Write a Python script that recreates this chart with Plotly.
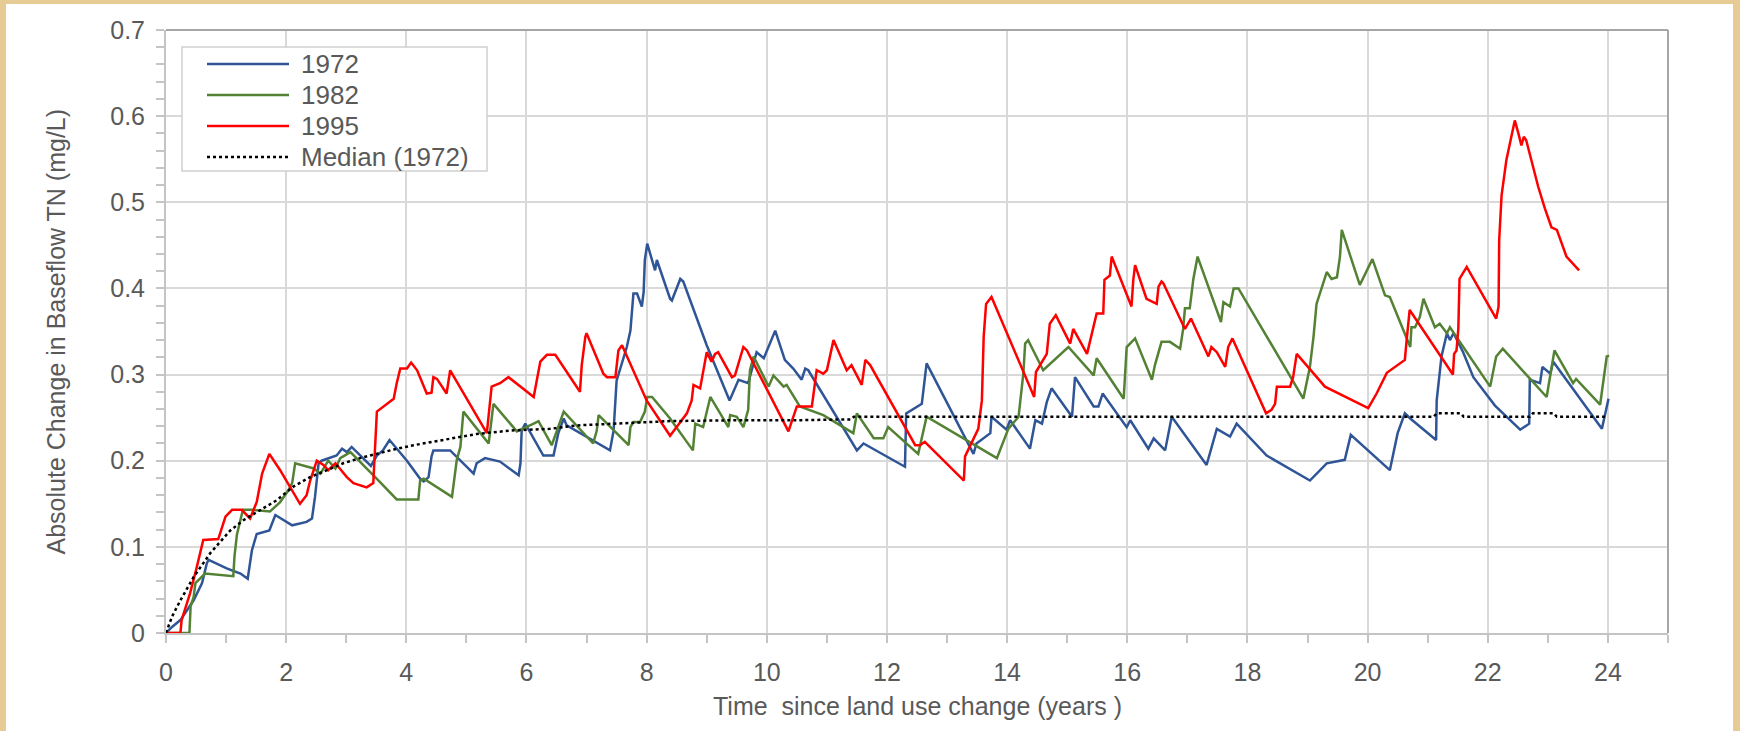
import plotly.graph_objects as go

# ---------------- data ----------------
x_1972 = [0, 0.1, 0.24, 0.35, 0.46, 0.6, 0.68, 0.71, 1.01, 1.24, 1.36, 1.43, 1.51, 1.72, 1.82, 2.1, 2.34, 2.43,
          2.48, 2.54, 2.59, 2.84, 2.93, 3.01, 3.09, 3.41, 3.51, 3.61, 3.72, 4.01, 4.23, 4.29, 4.37, 4.42, 4.45,
          4.73, 5.12, 5.17, 5.31, 5.56, 5.87, 5.9, 5.92, 5.98, 6.28, 6.45, 6.53, 6.62, 6.67, 7.39, 7.45, 7.5,
          7.67, 7.73, 7.78, 7.84, 7.92, 7.95, 7.97, 8.01, 8.06, 8.14, 8.17, 8.39, 8.42, 8.56, 8.61, 9.0, 9.38,
          9.53, 9.69, 9.83, 9.95, 10.14, 10.3, 10.44, 10.58, 10.64, 10.69, 11.5, 11.61, 12.3, 12.32, 12.5,
          12.58, 12.66, 13.44, 13.49, 13.72, 13.74, 13.99, 14.05, 14.38, 14.47, 14.58, 14.66, 14.74, 15.08,
          15.13, 15.44, 15.52, 15.59, 15.99, 16.05, 16.35, 16.44, 16.63, 16.74, 17.32, 17.49, 17.71, 17.82,
          18.32, 19.04, 19.32, 19.62, 19.72, 20.37, 20.5, 20.62, 20.71, 21.14, 21.15, 21.23, 21.32, 21.37,
          21.43, 21.59, 21.76, 22.12, 22.54, 22.69, 22.7, 22.87, 22.91, 23.04, 23.09, 23.9, 24.01]
y_1972 = [0, 0.007, 0.015, 0.027, 0.038, 0.058, 0.081, 0.085, 0.075, 0.069, 0.063, 0.096, 0.115, 0.119, 0.137,
          0.125, 0.129, 0.133, 0.158, 0.197, 0.2, 0.206, 0.214, 0.21, 0.216, 0.194, 0.206, 0.212, 0.224, 0.2,
          0.179, 0.176, 0.181, 0.205, 0.212, 0.212, 0.185, 0.197, 0.203, 0.199, 0.183, 0.197, 0.235, 0.243,
          0.206, 0.206, 0.232, 0.249, 0.241, 0.212, 0.235, 0.293, 0.332, 0.351, 0.394, 0.394, 0.379, 0.396,
          0.433, 0.452, 0.44, 0.421, 0.433, 0.388, 0.386, 0.411, 0.408, 0.334, 0.27, 0.294, 0.29, 0.326, 0.319,
          0.351, 0.317, 0.307, 0.294, 0.307, 0.305, 0.212, 0.22, 0.193, 0.255, 0.263, 0.266, 0.313, 0.208,
          0.22, 0.232, 0.251, 0.236, 0.247, 0.214, 0.247, 0.243, 0.268, 0.284, 0.251, 0.297, 0.263, 0.263,
          0.278, 0.239, 0.247, 0.214, 0.226, 0.212, 0.251, 0.195, 0.237, 0.228, 0.243, 0.206, 0.177, 0.197,
          0.201, 0.23, 0.189, 0.232, 0.255, 0.249, 0.224, 0.27, 0.321, 0.348, 0.34, 0.348, 0.326, 0.297,
          0.264, 0.236, 0.243, 0.294, 0.29, 0.309, 0.301, 0.315, 0.237, 0.272]

x_1982 = [0, 0.39, 0.41, 0.46, 0.49, 0.65, 1.12, 1.14, 1.18, 1.28, 1.43, 1.73, 1.9, 2.04, 2.1, 2.15, 2.46, 2.57,
          2.7, 2.82, 2.9, 3.07, 3.51, 3.84, 4.2, 4.23, 4.29, 4.76, 4.84, 4.9, 4.95, 5.37, 5.45, 5.84, 6.12, 6.2,
          6.42, 6.62, 7.11, 7.17, 7.2, 7.7, 7.73, 7.78, 7.89, 7.97, 8.01, 8.09, 8.39, 8.77, 8.81, 8.94, 9.06,
          9.36, 9.39, 9.5, 9.61, 9.69, 9.72, 9.78, 10.03, 10.11, 10.28, 10.33, 10.55, 10.94, 11.44, 11.5, 11.78,
          11.94, 12.02, 12.52, 12.66, 13.83, 14.02, 14.19, 14.27, 14.3, 14.35, 14.6, 15.02, 15.44, 15.49, 15.94,
          15.99, 16.13, 16.41, 16.46, 16.57, 16.71, 16.88, 16.93, 16.96, 17.04, 17.1, 17.17, 17.56, 17.6,
          17.71, 17.77, 17.85, 18.93, 19.04, 19.1, 19.15, 19.32, 19.4, 19.49, 19.54, 19.57, 19.87, 20.08,
          20.29, 20.37, 20.71, 20.73, 20.79, 20.87, 20.93, 21.12, 21.2, 21.32, 21.37, 22.04, 22.14, 22.25,
          22.98, 23.09, 23.11, 23.42, 23.47, 23.87, 23.93, 23.98, 24.02]
y_1982 = [0, 0, 0.031, 0.042, 0.058, 0.069, 0.066, 0.089, 0.114, 0.143, 0.143, 0.141, 0.152, 0.166, 0.174,
          0.197, 0.191, 0.185, 0.2, 0.191, 0.203, 0.21, 0.179, 0.155, 0.155, 0.177, 0.179, 0.158, 0.201, 0.216,
          0.257, 0.22, 0.266, 0.234, 0.243, 0.246, 0.218, 0.257, 0.22, 0.235, 0.253, 0.218, 0.239, 0.245, 0.245,
          0.257, 0.274, 0.274, 0.249, 0.212, 0.243, 0.239, 0.274, 0.239, 0.253, 0.251, 0.239, 0.259, 0.305,
          0.321, 0.286, 0.299, 0.286, 0.288, 0.263, 0.253, 0.232, 0.255, 0.226, 0.226, 0.239, 0.208, 0.251,
          0.203, 0.237, 0.251, 0.301, 0.336, 0.34, 0.305, 0.332, 0.299, 0.319, 0.272, 0.332, 0.342, 0.294,
          0.311, 0.338, 0.338, 0.33, 0.353, 0.377, 0.377, 0.411, 0.437, 0.361, 0.384, 0.379, 0.4, 0.4, 0.272,
          0.309, 0.344, 0.382, 0.419, 0.411, 0.413, 0.437, 0.468, 0.404, 0.434, 0.392, 0.39, 0.332, 0.355,
          0.355, 0.367, 0.388, 0.355, 0.359, 0.348, 0.355, 0.286, 0.321, 0.33, 0.274, 0.317, 0.328, 0.29,
          0.295, 0.265, 0.295, 0.321, 0.322]

x_1995 = [0, 0.24, 0.26, 0.4, 0.5, 0.6, 0.62, 0.87, 0.99, 1.1, 1.26, 1.4, 1.51, 1.6, 1.68, 1.72, 1.9, 2.12, 2.23,
          2.34, 2.4, 2.51, 2.62, 2.7, 2.82, 3.01, 3.12, 3.34, 3.45, 3.51, 3.59, 3.79, 3.84, 3.9, 4.01, 4.08,
          4.18, 4.34, 4.42, 4.45, 4.51, 4.67, 4.73, 5.34, 5.39, 5.42, 5.56, 5.7, 6.12, 6.2, 6.23, 6.34, 6.48,
          6.89, 6.92, 6.98, 7.0, 7.28, 7.34, 7.48, 7.53, 7.59, 8.0, 8.39, 8.67, 8.75, 8.78, 8.89, 8.95, 9.0,
          9.08, 9.14, 9.19, 9.42, 9.47, 9.61, 9.67, 10.36, 10.5, 10.75, 10.83, 10.94, 11.0, 11.11, 11.33,
          11.41, 11.58, 11.64, 11.72, 12.47, 12.55, 12.63, 13.28, 13.3, 13.52, 13.58, 13.61, 13.65, 13.74,
          14.45, 14.48, 14.66, 14.71, 14.81, 15.05, 15.1, 15.33, 15.41, 15.49, 15.6, 15.62, 15.71, 15.74,
          16.07, 16.1, 16.13, 16.32, 16.49, 16.52, 16.57, 16.6, 16.96, 17.06, 17.35, 17.4, 17.49, 17.63,
          17.68, 17.75, 18.31, 18.4, 18.46, 18.49, 18.71, 18.76, 18.82, 19.29, 20.01, 20.15, 20.32, 20.62,
          20.65, 20.7, 21.42, 21.44, 21.48, 21.51, 21.53, 21.65, 22.14, 22.18, 22.19, 22.23, 22.31, 22.41,
          22.45, 22.51, 22.56, 22.6, 22.64, 22.84, 22.95, 23.06, 23.15, 23.31, 23.52]
y_1995 = [0, 0, 0.015, 0.046, 0.073, 0.1, 0.108, 0.109, 0.135, 0.143, 0.143, 0.133, 0.152, 0.185, 0.2, 0.208,
          0.189, 0.162, 0.15, 0.16, 0.177, 0.2, 0.195, 0.189, 0.197, 0.181, 0.174, 0.169, 0.174, 0.257, 0.261,
          0.272, 0.29, 0.307, 0.307, 0.314, 0.305, 0.278, 0.279, 0.297, 0.295, 0.278, 0.305, 0.232, 0.266,
          0.286, 0.29, 0.297, 0.274, 0.301, 0.315, 0.323, 0.323, 0.28, 0.311, 0.344, 0.348, 0.301, 0.297,
          0.297, 0.328, 0.334, 0.27, 0.229, 0.255, 0.27, 0.288, 0.284, 0.307, 0.326, 0.315, 0.324, 0.326,
          0.297, 0.299, 0.332, 0.328, 0.234, 0.263, 0.263, 0.305, 0.301, 0.305, 0.34, 0.305, 0.311, 0.288,
          0.317, 0.311, 0.218, 0.218, 0.222, 0.177, 0.205, 0.237, 0.27, 0.344, 0.382, 0.39, 0.274, 0.303,
          0.324, 0.359, 0.369, 0.336, 0.353, 0.324, 0.348, 0.371, 0.371, 0.41, 0.415, 0.437, 0.379, 0.41,
          0.427, 0.388, 0.382, 0.402, 0.408, 0.406, 0.353, 0.365, 0.321, 0.332, 0.326, 0.309, 0.332, 0.342,
          0.255, 0.259, 0.266, 0.286, 0.286, 0.297, 0.324, 0.286, 0.261, 0.278, 0.302, 0.317, 0.34, 0.375,
          0.3, 0.324, 0.328, 0.353, 0.411, 0.425, 0.365, 0.379, 0.456, 0.508, 0.549, 0.582, 0.595, 0.58,
          0.566, 0.576, 0.572, 0.518, 0.493, 0.471, 0.468, 0.437, 0.421]

x_median = [0, 0.1, 0.24, 0.46, 0.74, 1.07, 1.29, 1.57, 1.84, 2.12, 2.4, 2.68, 2.95, 3.23, 3.51, 3.79, 4.12,
            4.62, 5.17, 5.73, 6.39, 6.84, 7.39, 7.95, 8.39, 9.5, 10.5, 11.4, 11.45, 21.1, 21.15, 21.55, 21.6,
            22.7, 22.75, 23.1, 23.15, 23.95]
y_median = [0, 0.019, 0.038, 0.065, 0.093, 0.119, 0.131, 0.143, 0.154, 0.17, 0.181, 0.189, 0.197, 0.203,
            0.208, 0.213, 0.218, 0.224, 0.231, 0.235, 0.237, 0.241, 0.243, 0.245, 0.246, 0.247, 0.247, 0.248,
            0.251, 0.251, 0.255, 0.255, 0.251, 0.251, 0.255, 0.255, 0.251, 0.251]

series_names = ["1972", "1982", "1995", "Median (1972)"]
series_colors = ["#2F5597", "#548235", "#FF0000", "#000000"]
series_dash = ["solid", "solid", "solid", "dot"]
x_title = "Time  since land use change (years )"
y_title = "Absolute Change in Baseflow TN (mg/L)"

# ---------------- figure ----------------
W, H = 1740, 731
L, R, T, B = 166, 72, 30, 98
PW, PH = W - L - R, H - T - B
FONT = "Arial, 'Liberation Sans', sans-serif"
TXT = "#595959"
GRID = "#d9d9d9"
AX = "#c4c4c4"
LW = 2.5


def px_x(px):
    return (px - L) / PW


def px_y(py):
    return (H - B - py) / PH


fig = go.Figure()
data = [(x_1972, y_1972), (x_1982, y_1982), (x_1995, y_1995), (x_median, y_median)]
for (xs, ys), nm, col, dsh in zip(data, series_names, series_colors, series_dash):
    fig.add_trace(go.Scatter(x=xs, y=ys, mode="lines", name=nm, showlegend=False,
                             line=dict(color=col, width=LW, dash=dsh)))

# legend drawn as a boxed key (matches the reference's spacing)
shapes = [
    dict(type="rect", xref="paper", yref="paper", x0=px_x(6), x1=px_x(1733), y0=px_y(H + 5), y1=px_y(4),
         fillcolor="white", line=dict(width=0), layer="below"),
    dict(type="line", xref="paper", yref="paper", x0=0, x1=1, y0=1, y1=1,
         line=dict(color="#a6a6a6", width=2), layer="above"),
    dict(type="line", xref="paper", yref="paper", x0=1, x1=1, y0=0, y1=1,
         line=dict(color="#a6a6a6", width=2), layer="above"),
    dict(type="rect", xref="paper", yref="paper", x0=px_x(182), x1=px_x(487), y0=px_y(171), y1=px_y(47),
         fillcolor="white", line=dict(color="#d0d0d0", width=1.5), layer="above"),
]
annotations = []
row_y = [64, 95, 126, 157]
for ry, nm, col, dsh in zip(row_y, series_names, series_colors, series_dash):
    shapes.append(dict(type="line", xref="paper", yref="paper", x0=px_x(207), x1=px_x(289),
                       y0=px_y(ry), y1=px_y(ry), line=dict(color=col, width=LW, dash=dsh), layer="above"))
    annotations.append(dict(text=nm, xref="paper", yref="paper", x=px_x(299), y=px_y(ry),
                            xanchor="left", yanchor="middle", showarrow=False,
                            font=dict(family=FONT, size=26, color=TXT)))

annotations += [
    dict(text=y_title, xref="paper", yref="paper", x=px_x(55), y=0.5, textangle=-90,
         xanchor="center", yanchor="middle", showarrow=False,
         font=dict(family=FONT, size=25, color=TXT)),
    dict(text=x_title, xref="paper", yref="paper", x=0.5, y=px_y(706),
         xanchor="center", yanchor="middle", showarrow=False,
         font=dict(family=FONT, size=25, color=TXT)),
]

fig.update_layout(
    width=W, height=H,
    margin=dict(l=L, r=R, t=T, b=B, pad=0),
    paper_bgcolor="#E6CC94",
    plot_bgcolor="white",
    font=dict(family=FONT, size=25, color=TXT),
    showlegend=False,
    xaxis=dict(
        range=[0, 25], tick0=0, dtick=2, showgrid=True, gridcolor=GRID, gridwidth=2,
        zeroline=False, showline=True, linecolor=AX, linewidth=2,
        ticks="outside", ticklen=8, tickwidth=2, tickcolor=AX, ticklabelstandoff=8,
        tickfont=dict(family=FONT, size=25, color=TXT),
        minor=dict(dtick=1, ticks="outside", ticklen=8, tickwidth=2, tickcolor=AX, showgrid=False),
        fixedrange=True,
    ),
    yaxis=dict(
        range=[0, 0.7], tick0=0, dtick=0.1, showgrid=True, gridcolor=GRID, gridwidth=2,
        zeroline=False, showline=True, linecolor=AX, linewidth=2,
        ticks="outside", ticklen=8, tickwidth=2, tickcolor=AX, ticklabelstandoff=6,
        tickfont=dict(family=FONT, size=25, color=TXT),
        minor=dict(dtick=0.02, ticks="outside", ticklen=8, tickwidth=2, tickcolor=AX, showgrid=False),
        fixedrange=True,
    ),
    shapes=shapes,
    annotations=annotations,
)

fig.write_html("out.html")
